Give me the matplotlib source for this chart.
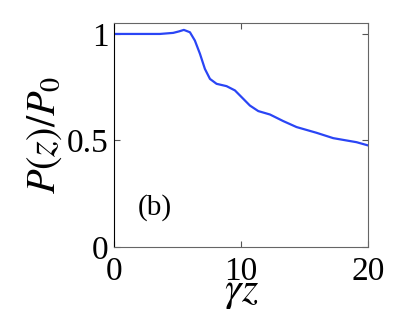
import matplotlib
matplotlib.use("Agg")
import matplotlib.pyplot as plt

# curve
gz = [0.0, 2.0, 3.59, 4.64, 5.1, 5.48, 5.96, 6.35, 6.75, 7.14, 7.54, 8.06, 8.85,
      9.51, 10.16, 10.69, 11.35, 12.27, 13.32, 14.37, 15.95, 17.26, 18.32,
      19.1, 20.0]
power = [1.0, 1.0, 1.0, 1.005, 1.012, 1.019, 1.008, 0.969, 0.907, 0.836, 0.789,
         0.766, 0.755, 0.735, 0.696, 0.664, 0.638, 0.622, 0.591, 0.563, 0.536,
         0.511, 0.50, 0.492, 0.477]

x_ticks = [0, 10, 20]
y_ticks = [0, 0.5, 1]
y_tick_labels = ['0', '0.5', '1']

plt.rcParams.update({'font.family': 'Liberation Serif', 'mathtext.fontset': 'stix'})

fig = plt.figure(figsize=(4.07, 3.09), dpi=100)
ax = fig.add_axes([0.281, 0.2006, 0.623, 0.724])

ax.plot(gz, power, color='#2a45f5', lw=1.6, solid_joinstyle='round')

ax.set_xlim(0, 20)
ax.set_ylim(0, 1.05)
ax.set_xticks(x_ticks)
ax.set_yticks(y_ticks)
ax.set_yticklabels(y_tick_labels)
ax.tick_params(direction='in', top=True, right=True, labelsize=24, length=4,
               color='#555555')
ax.tick_params(axis='x', pad=7)
ax.tick_params(axis='y', pad=4)
for s in ax.spines.values():
    s.set_color('#666666')
    s.set_linewidth(0.8)
ax.spines['left'].set_color('black')

ax.set_xlabel(r'$\gamma z$', fontsize=30, labelpad=-10)
ax.set_ylabel(r'$P(z)/P_0$', fontsize=29, labelpad=2)
ax.text(1.85, 0.15, '(b)', fontsize=21)

fig.savefig('out.png', dpi=100)
